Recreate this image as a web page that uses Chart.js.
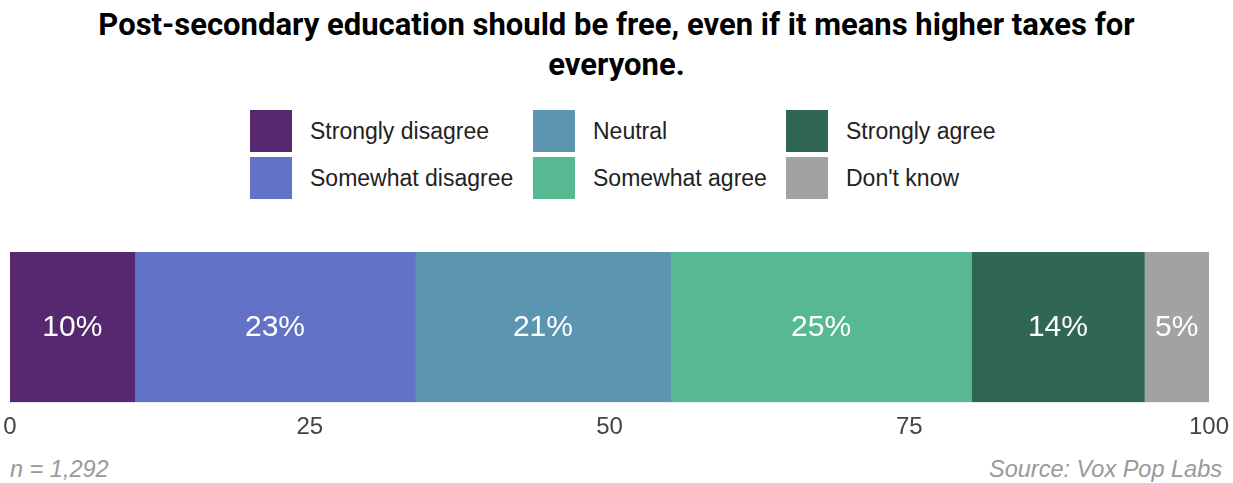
<!DOCTYPE html>
<html>
<head>
<meta charset="utf-8">
<script src="https://cdn.jsdelivr.net/npm/chart.js"></script>
<style>
  body { margin: 0; width: 1233px; height: 483px; background: #fff; position: relative; overflow: hidden; font-family: "Liberation Sans", Arial, sans-serif; }
  #title { position: absolute; top: 5px; left: 0; width: 1233px; text-align: center; font-family: Roboto, sans-serif; font-weight: bold; font-size: 31px; line-height: 40px; color: #000; }
  #legend { position: absolute; top: 110px; left: 250px; display: grid; grid-template-columns: 283px 253px 250px; grid-auto-flow: column; grid-template-rows: 42px 42px; row-gap: 5px; }
  .item { display: flex; align-items: center; font-size: 23px; color: #222; }
  .box { width: 42px; height: 42px; margin-right: 18px; flex: none; }
  #wrap { position: absolute; top: 252px; left: 0; width: 1233px; height: 201px; }
  .foot { position: absolute; top: 456px; font-style: italic; font-size: 23.5px; color: #999; }
</style>
</head>
<body>
<div id="title">Post-secondary education should be free, even if it means higher taxes for<br>everyone.</div>
<div id="legend"></div>
<div id="wrap"><canvas id="myChart"></canvas></div>
<div class="foot" style="left:10px">n = 1,292</div>
<div class="foot" style="right:11px">Source: Vox Pop Labs</div>
<script>
  // answer categories and shares (%)
  const categories = ["Strongly disagree", "Somewhat disagree", "Neutral", "Somewhat agree", "Strongly agree", "Don't know"];
  const shares = [10.4, 23.4, 21.3, 25.1, 14.4, 5.4];
  const colors = ["#55286f", "#6272c7", "#5b95b0", "#57b991", "#306654", "#a2a2a2"];
  const tickValues = [0, 25, 50, 75, 100];

  // legend, filled column by column
  const legend = document.getElementById('legend');
  categories.forEach((c, i) => {
    const d = document.createElement('div');
    d.className = 'item';
    d.innerHTML = '<span class="box" style="background:' + colors[i] + '"></span>' + c;
    legend.appendChild(d);
  });

  const barLabels = {
    id: 'barLabels',
    afterDatasetsDraw(chart) {
      const ctx = chart.ctx;
      ctx.save();
      ctx.font = '30px "Liberation Sans", Arial, sans-serif';
      ctx.fillStyle = '#fff';
      ctx.textAlign = 'center';
      ctx.textBaseline = 'middle';
      chart.data.datasets.forEach((ds, i) => {
        const bar = chart.getDatasetMeta(i).data[0];
        const p = bar.getCenterPoint();
        ctx.fillText(Math.round(ds.data[0]) + '%', p.x, p.y + 1);
      });
      ctx.restore();
    }
  };

  const ctx = document.getElementById('myChart').getContext('2d');
  new Chart(ctx, {
    type: 'bar',
    data: {
      labels: [''],
      datasets: categories.map((c, i) => ({
        label: c,
        data: [shares[i]],
        backgroundColor: colors[i],
        borderWidth: 0,
        barPercentage: 1,
        categoryPercentage: 1
      }))
    },
    options: {
      indexAxis: 'y',
      responsive: true,
      maintainAspectRatio: false,
      animation: false,
      layout: { padding: { left: 10, right: 24, top: 0, bottom: 0 } },
      plugins: { legend: { display: false }, tooltip: { enabled: false } },
      scales: {
        x: {
          stacked: true,
          min: 0, max: 100,
          afterBuildTicks: axis => { axis.ticks = tickValues.map(v => ({ value: v })); },
          afterFit: axis => { axis.paddingLeft = 0; axis.paddingRight = 0; },
          grid: { display: false, drawTicks: false },
          border: { display: false },
          ticks: { color: '#444', padding: 11, font: { size: 24, family: '"Liberation Sans", Arial, sans-serif' } }
        },
        y: { stacked: true, display: false }
      }
    },
    plugins: [barLabels]
  });
</script>
</body>
</html>
